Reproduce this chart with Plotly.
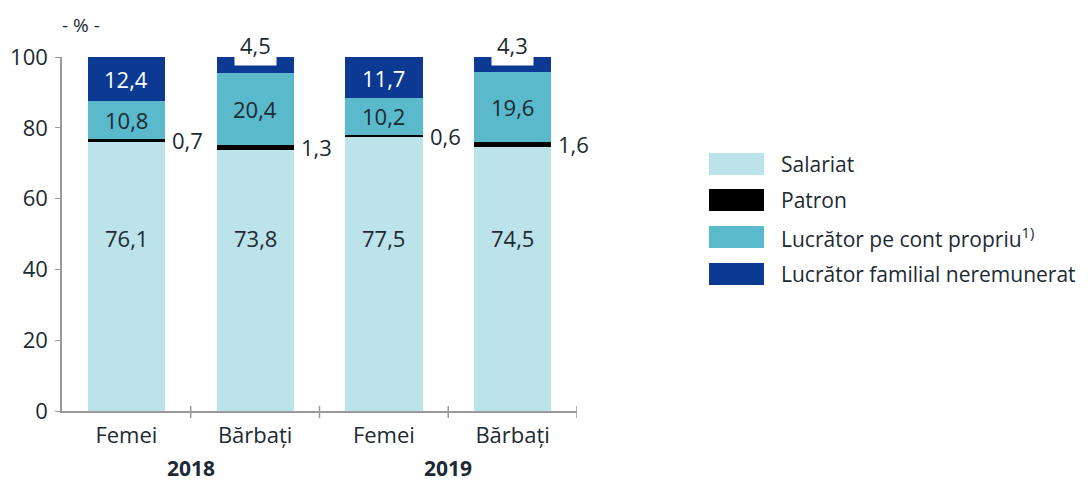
import plotly.graph_objects as go

categories = ["Femei", "Bărbați", "Femei", "Bărbați"]
years = ["2018", "2019"]
salariat = [76.1, 73.8, 77.5, 74.5]
patron = [0.7, 1.3, 0.6, 1.6]
cont_propriu = [10.8, 20.4, 10.2, 19.6]
familial = [12.4, 4.5, 11.7, 4.3]
y_ticks = [0, 20, 40, 60, 80, 100]

series = [
    ("Salariat", salariat, "#bde3ea"),
    ("Patron", patron, "#000000"),
    ("Lucrător pe cont propriu<sup>1)</sup>", cont_propriu, "#5ab9cb"),
    ("Lucrător familial neremunerat", familial, "#0c3a92"),
]

FONT = "Open Sans"
TXT = "#1b2a33"
AX = "#9a9a9a"
OFF = 8  # page body margin offset
W, H = 1091 - OFF, 484 - OFF
ML, MT = 62 - OFF, 57 - OFF
PW, PH = 515, 354
MR = W - ML - PW
MB = H - MT - PH
FS = 22

x = list(range(len(categories)))
fig = go.Figure()
for name, vals, col in series:
    fig.add_trace(go.Bar(x=x, y=vals, name=name, marker=dict(color=col, line=dict(width=0)),
                         width=0.6, showlegend=False, hoverinfo="skip"))

def fmt(v):
    return f"{v:.1f}".replace(".", ",")

ann = []
for i in x:
    s, p, c, f = salariat[i], patron[i], cont_propriu[i], familial[i]
    ann.append(dict(x=i, y=49, text=fmt(s), showarrow=False, font=dict(size=FS, color=TXT)))
    ann.append(dict(x=i + 0.3, y=s + p / 2, text=fmt(p), showarrow=False, xanchor="left", xshift=5,
                    font=dict(size=FS, color=TXT)))
    ann.append(dict(x=i, y=s + p + c / 2, text=fmt(c), showarrow=False, font=dict(size=FS, color=TXT)))
    if f > 8:
        ann.append(dict(x=i, y=s + p + c + f / 2, text=fmt(f), showarrow=False,
                        font=dict(size=FS, color="white")))
    else:
        ann.append(dict(x=i, y=s + p + c + f, yshift=12, text=fmt(f), showarrow=False, yanchor="middle",
                        bgcolor="white", borderpad=5, font=dict(size=FS, color=TXT)))

# screen pixel -> paper helpers (for non-data decorations)
def sx(p):
    return (p - OFF - ML) / PW
def sy(p):
    return (H - MB - (p - OFF)) / PH

# year labels
for k, yr in enumerate(years):
    ann.append(dict(x=2 * k + 0.5, y=sy(468), yref="paper", text=f"<b>{yr}</b>", showarrow=False,
                    yanchor="middle", font=dict(size=21, color=TXT)))

ann.append(dict(x=sx(81), y=sy(25), xref="paper", yref="paper", text="- % -", showarrow=False,
                xanchor="center", yanchor="middle", font=dict(size=19, color=TXT)))

shapes = []
# boundary ticks crossing the x axis
for b in [0.5, 1.5, 2.5, 3.5]:
    shapes.append(dict(type="line", xref="x", yref="paper", x0=b, x1=b, y0=sy(418), y1=sy(406),
                       line=dict(color=AX, width=1.5)))

# custom legend
row_centers = [164, 200, 237, 274]
for (name, vals, col), cy in zip(series, row_centers):
    shapes.append(dict(type="rect", xref="paper", yref="paper",
                       x0=sx(709), x1=sx(764), y0=sy(cy + 11), y1=sy(cy - 11),
                       fillcolor=col, line=dict(width=0)))
    ann.append(dict(x=sx(779), y=sy(cy), xref="paper", yref="paper", text=name, showarrow=False,
                    xanchor="left", yanchor="middle", font=dict(size=21, color=TXT)))

fig.update_layout(
    barmode="stack",
    width=W, height=H,
    margin=dict(l=ML, r=MR, t=MT, b=MB, autoexpand=False),
    paper_bgcolor="white", plot_bgcolor="white",
    font=dict(family=FONT, size=FS, color=TXT),
    annotations=ann, shapes=shapes,
)
fig.update_xaxes(range=[-0.5, 3.5], tickvals=x, ticktext=categories, ticks="",
                 showline=True, linecolor=AX, linewidth=1.5, showgrid=False, zeroline=False,
                 tickfont=dict(size=FS, color=TXT), ticklabelstandoff=4, fixedrange=True)
fig.update_yaxes(range=[0, 100], tickvals=y_ticks, ticks="outside", ticklen=5, tickcolor=AX,
                 showline=True, linecolor=AX, linewidth=1.5, showgrid=False, zeroline=False,
                 tickfont=dict(size=FS, color=TXT), ticklabelstandoff=3, fixedrange=True)

fig.write_html("out.html")
